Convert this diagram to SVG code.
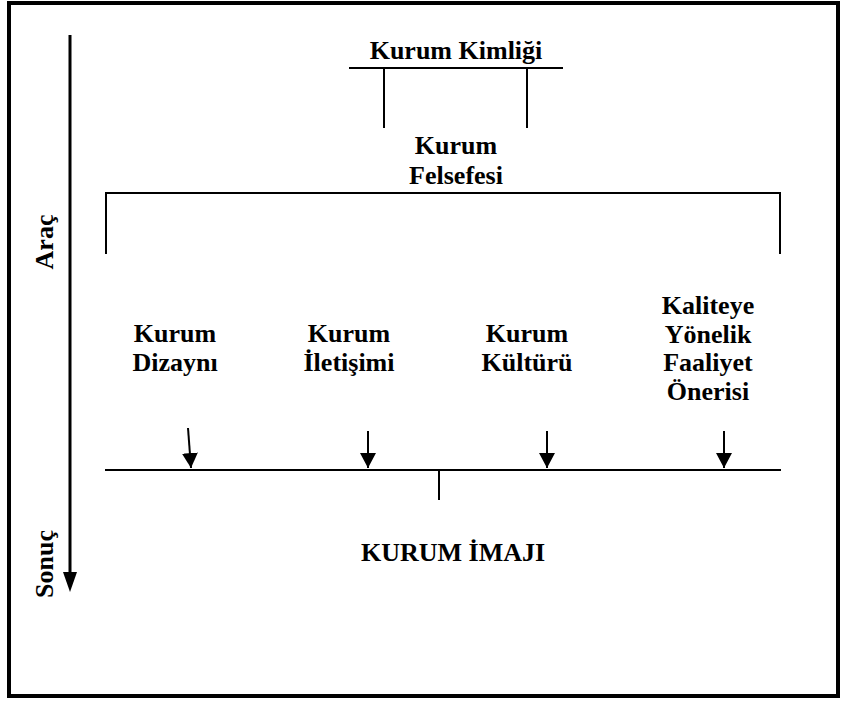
<svg xmlns="http://www.w3.org/2000/svg" width="842" height="702" viewBox="0 0 842 702">
<style>
text{font-family:"Liberation Serif","Times New Roman",serif;font-weight:bold;font-size:26px;fill:#000;text-anchor:middle}
.ln{stroke:#000;stroke-width:2;fill:none}
.ax{stroke:#000;stroke-width:3;fill:none}
</style>
<defs>
<marker id="ah" markerWidth="15" markerHeight="16" refX="15" refY="8" orient="auto" markerUnits="userSpaceOnUse" viewBox="0 0 15 16">
<path d="M0,0 L15,8 L0,16 Z" fill="#000"/>
</marker>
</defs>
<rect x="0" y="0" width="842" height="702" fill="#fff"/>
<rect id="frame" x="9" y="3" width="829" height="693" fill="none" stroke="#000" stroke-width="4"/>
<g id="axis">
<line class="ax" x1="70" y1="35" x2="70" y2="572"/>
<path d="M63,572 L77,572 L70,592 Z" fill="#000"/>
<text transform="translate(53,242) rotate(-90)">Araç</text>
<text transform="translate(53,564) rotate(-90)">Sonuç</text>
</g>
<g id="kurum-kimligi"><text x="456" y="59">Kurum Kimliği</text></g>
<g id="kurum-felsefesi"><text x="456" y="154">Kurum</text><text x="456" y="184">Felsefesi</text></g>
<g id="kurum-dizayni"><text x="175" y="342">Kurum</text><text x="175" y="371">Dizaynı</text></g>
<g id="kurum-iletisimi"><text x="349" y="342">Kurum</text><text x="349" y="371">İletişimi</text></g>
<g id="kurum-kulturu"><text x="527" y="342">Kurum</text><text x="527" y="371">Kültürü</text></g>
<g id="kaliteye"><text x="708" y="314">Kaliteye</text><text x="708" y="343">Yönelik</text><text x="708" y="371">Faaliyet</text><text x="708" y="400">Önerisi</text></g>
<g id="kurum-imaji"><text x="453" y="561">KURUM İMAJI</text></g>
<g id="connectors">
<line class="ln" x1="349" y1="68" x2="563" y2="68"/>
<line class="ln" x1="384" y1="68" x2="384" y2="128"/>
<line class="ln" x1="527" y1="68" x2="527" y2="128"/>
<line class="ln" x1="105" y1="193" x2="781" y2="193"/>
<line class="ln" x1="106" y1="192" x2="106" y2="254"/>
<line class="ln" x1="780" y1="192" x2="780" y2="254"/>
<line class="ln" x1="105" y1="470" x2="781" y2="470"/>
<line class="ln" x1="439" y1="470" x2="439" y2="500"/>
<line class="ln" x1="188" y1="428" x2="191" y2="468" marker-end="url(#ah)"/>
<line class="ln" x1="368" y1="431" x2="368" y2="468" marker-end="url(#ah)"/>
<line class="ln" x1="547" y1="431" x2="547" y2="468" marker-end="url(#ah)"/>
<line class="ln" x1="724" y1="431" x2="724" y2="468" marker-end="url(#ah)"/>
</g>
</svg>
